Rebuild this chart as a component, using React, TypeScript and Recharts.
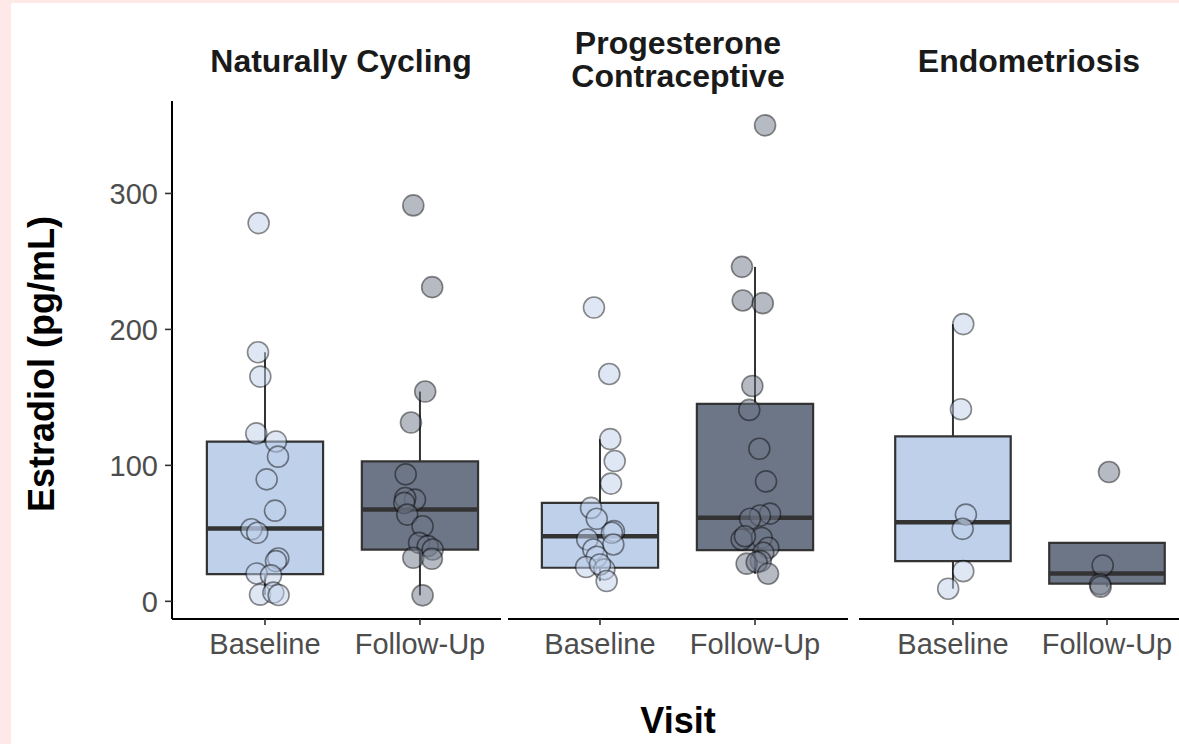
import React from 'react';
import { ScatterChart, Scatter, XAxis, YAxis, ReferenceArea, ReferenceLine } from 'recharts';

// ---------- data ----------
const visits = ['Baseline', 'Follow-Up'];
const groupTitles = [['Naturally Cycling'], ['Progesterone', 'Contraceptive'], ['Endometriosis']];
const yTicks = [0, 100, 200, 300];

// Naturally Cycling
const ncBaseY = [278.2, 183.2, 165.3, 123.5, 117.6, 106.4, 89.7, 66.7, 53.0, 50.4, 31.5, 29.6, 20.5, 19.1, 4.9, 6.4, 4.6];
const ncBaseX = [0.959, 0.955, 0.97, 0.944, 1.071, 1.084, 1.011, 1.065, 0.912, 0.95, 1.086, 1.071, 0.946, 1.039, 0.968, 1.054, 1.088];
const ncFollowY = [291.2, 231.1, 154.3, 131.5, 93.4, 74.8, 76.0, 72.4, 63.8, 55.2, 43.0, 40.6, 38.1, 32.0, 31.3, 4.4];
const ncFollowX = [1.957, 2.079, 2.034, 1.942, 1.908, 1.968, 1.905, 1.899, 1.918, 2.017, 1.994, 2.05, 2.082, 1.957, 2.077, 2.017];

// Progesterone Contraceptive
const pcBaseY = [216.1, 167.2, 119.3, 103.2, 86.6, 68.7, 60.7, 51.6, 50.4, 45.5, 41.8, 38.1, 32.8, 25.2, 23.5, 27.1, 14.9];
const pcBaseX = [0.961, 1.06, 1.066, 1.095, 1.071, 0.942, 0.979, 1.09, 1.077, 0.918, 1.086, 0.957, 0.979, 0.91, 1.028, 1.0, 1.043];
const pcFollowY = [350.1, 246.0, 221.3, 219.3, 158.4, 140.8, 112.2, 88.2, 64.5, 63.1, 60.7, 46.7, 45.5, 47.9, 39.4, 35.7, 29.6, 27.7, 28.8, 20.3];
const pcFollowX = [2.065, 1.916, 1.921, 2.05, 1.983, 1.963, 2.028, 2.071, 2.097, 2.032, 1.968, 2.043, 1.914, 1.935, 2.086, 2.054, 2.037, 1.946, 2.011, 2.084];

// Endometriosis
const enBaseY = [203.9, 141.3, 63.8, 53.3, 22.2, 9.3];
const enBaseX = [1.067, 1.052, 1.084, 1.063, 1.067, 0.969];
const enFollowY = [95.1, 26.4, 12.5, 10.8];
const enFollowX = [2.013, 1.972, 1.955, 1.959];

// box statistics [lower whisker, q1, median, q3, upper whisker]
const ncBaseBox = [4.6, 20.0, 53.5, 117.4, 183.2];
const ncFollowBox = [4.4, 38.1, 67.5, 102.9, 154.3];
const pcBaseBox = [14.9, 24.7, 47.9, 72.4, 119.3];
const pcFollowBox = [20.3, 37.6, 61.4, 145.2, 246.0];
const enBaseBox = [9.3, 29.6, 58.2, 121.3, 203.9];
const enFollowBox = [10.8, 13.0, 20.5, 43.0, 43.0];

// ---------- style ----------
const FONT = '"Liberation Sans", Arial, Helvetica, sans-serif';
const BASE_FILL = '#BFD0EA';
const FOLLOW_FILL = '#6D7687';
const LINE = '#333333';
const Y_DOMAIN: [number, number] = [-13, 368];
const PLOT_TOP = 101;
const PLOT_BOTTOM = 619;
const X_AXIS_H = 60;
const BOX_HALF = 0.375;

const toPoints = (xs: number[], ys: number[]) => ys.map((y, i) => ({ x: xs[i], y }));

const boxElements = (pos: number, s: number[], fill: string, key: string) => {
  const [lo, q1, med, q3, hi] = s;
  return [
    <ReferenceLine key={key + 'wu'} segment={[{ x: pos, y: q3 }, { x: pos, y: hi }]} stroke={LINE} strokeWidth={2} ifOverflow="visible" />,
    <ReferenceLine key={key + 'wl'} segment={[{ x: pos, y: lo }, { x: pos, y: q1 }]} stroke={LINE} strokeWidth={2} ifOverflow="visible" />,
    <ReferenceArea key={key + 'box'} x1={pos - BOX_HALF} x2={pos + BOX_HALF} y1={q1} y2={q3} fill={fill} fillOpacity={1} stroke={LINE} strokeWidth={2.2} ifOverflow="visible" />,
    <ReferenceLine key={key + 'med'} segment={[{ x: pos - BOX_HALF, y: med }, { x: pos + BOX_HALF, y: med }]} stroke={LINE} strokeWidth={4.5} ifOverflow="visible" />,
  ];
};

const makeDot = (fill: string) => (props: any) => {
  const { cx, cy } = props;
  if (cx == null || cy == null) return <g />;
  return (
    <circle cx={cx} cy={cy} r={10.5} fill={fill} fillOpacity={0.5} stroke="#000" strokeOpacity={0.45} strokeWidth={1.6} />
  );
};

type PanelProps = {
  left: number;
  right: number;
  domain: [number, number];
  showY: boolean;
  baseBox: number[];
  followBox: number[];
  basePts: { x: number; y: number }[];
  followPts: { x: number; y: number }[];
  id: string;
};

const Y_AXIS_W = 72;

const Panel = ({ left, right, domain, showY, baseBox, followBox, basePts, followPts, id }: PanelProps) => {
  const chartLeft = showY ? 0 : left;
  const marginLeft = showY ? left - Y_AXIS_W : 0;
  const width = right - chartLeft;
  return (
    <div style={{ position: 'absolute', left: chartLeft, top: 0 }}>
      <ScatterChart
        width={width}
        height={744}
        margin={{ top: PLOT_TOP, right: 0, bottom: 744 - PLOT_BOTTOM - X_AXIS_H, left: marginLeft }}
        style={{ overflow: 'visible' }}
      >
        <XAxis
          type="number"
          dataKey="x"
          domain={domain}
          allowDataOverflow
          ticks={[1, 2]}
          interval={0}
          tickFormatter={(v: number) => visits[Math.round(v) - 1]}
          height={X_AXIS_H}
          tickSize={6}
          tickMargin={8}
          tick={{ fontSize: 29, fill: '#4D4D4D', fontFamily: FONT }}
          tickLine={{ stroke: LINE, strokeWidth: 1.6 }}
          axisLine={{ stroke: '#000', strokeWidth: 2 }}
        />
        {showY ? (
          <YAxis
            type="number"
            dataKey="y"
            domain={Y_DOMAIN}
            allowDataOverflow
            ticks={yTicks}
            interval={0}
            width={Y_AXIS_W}
            tickSize={7}
            tickMargin={7}
            tick={{ fontSize: 29, fill: '#4D4D4D', fontFamily: FONT }}
            tickLine={{ stroke: LINE, strokeWidth: 1.6 }}
            axisLine={{ stroke: '#000', strokeWidth: 2 }}
          />
        ) : (
          <YAxis type="number" dataKey="y" domain={Y_DOMAIN} allowDataOverflow hide />
        )}
        {boxElements(1, baseBox, BASE_FILL, id + 'b')}
        {boxElements(2, followBox, FOLLOW_FILL, id + 'f')}
        <Scatter data={basePts} fill={BASE_FILL} shape={makeDot(BASE_FILL)} isAnimationActive={false} />
        <Scatter data={followPts} fill={FOLLOW_FILL} shape={makeDot(FOLLOW_FILL)} isAnimationActive={false} />
      </ScatterChart>
    </div>
  );
};

export default function App() {
  const titleCenters = [341, 678, 1029];
  return (
    <div style={{ position: 'absolute', left: 0, top: 0, width: 1179, height: 744, background: '#FEE8E8', overflow: 'hidden' }}>
      <div style={{ position: 'absolute', left: 11, top: 3, width: 1168, height: 741, background: '#FFFFFF' }} />
      <Panel left={172} right={501} domain={[0.4, 2.523]} showY baseBox={ncBaseBox} followBox={ncFollowBox}
        basePts={toPoints(ncBaseX, ncBaseY)} followPts={toPoints(ncFollowX, ncFollowY)} id="nc" />
      <Panel left={508} right={848} domain={[0.4065, 2.6]} showY={false} baseBox={pcBaseBox} followBox={pcFollowBox}
        basePts={toPoints(pcBaseX, pcBaseY)} followPts={toPoints(pcFollowX, pcFollowY)} id="pc" />
      <Panel left={859} right={1179} domain={[0.39, 2.4675]} showY={false} baseBox={enBaseBox} followBox={enFollowBox}
        basePts={toPoints(enBaseX, enBaseY)} followPts={toPoints(enFollowX, enFollowY)} id="en" />
      <svg width={1179} height={744} style={{ position: 'absolute', left: 0, top: 0, pointerEvents: 'none' }}>
        {groupTitles.map((lines, gi) =>
          lines.length === 1 ? (
            <text key={gi} x={titleCenters[gi]} y={72} textAnchor="middle" fontFamily={FONT} fontWeight="bold" fontSize={32} fill="#1A1A1A">
              {lines[0]}
            </text>
          ) : (
            <text key={gi} x={titleCenters[gi]} y={54} textAnchor="middle" fontFamily={FONT} fontWeight="bold" fontSize={32} fill="#1A1A1A">
              {lines.map((l, li) => (
                <tspan key={li} x={titleCenters[gi]} dy={li === 0 ? 0 : 33}>{l}</tspan>
              ))}
            </text>
          )
        )}
        <text x={678} y={733} textAnchor="middle" fontFamily={FONT} fontWeight="bold" fontSize={36} fill="#000">Visit</text>
        <text transform="translate(54, 364) rotate(-90)" textAnchor="middle" fontFamily={FONT} fontWeight="bold" fontSize={36} fill="#000">
          Estradiol (pg/mL)
        </text>
      </svg>
    </div>
  );
}
